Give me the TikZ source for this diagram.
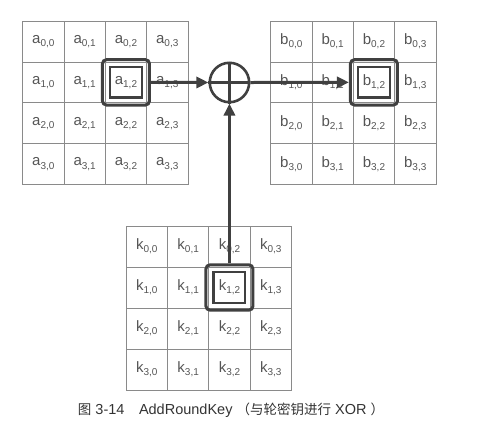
\documentclass[tikz,border=0pt]{standalone}
\usepackage{fontspec}
\setmainfont{Liberation Sans}
\newfontfamily\cjk{Noto Sans CJK SC}
\usetikzlibrary{arrows.meta}
\definecolor{gridc}{HTML}{8A8A8A}
\definecolor{txtc}{HTML}{555555}
\definecolor{darkc}{HTML}{404040}
\definecolor{capc}{HTML}{333333}
\newcommand{\cellab}[3]{#1{\fontsize{10}{10}\selectfont\raisebox{-3.3pt}{#2,#3}}}
\newcommand{\cj}[1]{{\cjk\fontsize{13.5}{13.5}\selectfont #1}}
\begin{document}
\begin{tikzpicture}[x=1pt,y=-1pt,
  cell/.style={draw=gridc,line width=0.7pt,minimum width=41.3pt,minimum height=40.9pt,inner sep=0pt,text=txtc,font=\fontsize{15}{15}\selectfont},
  outerbox/.style={draw=darkc,line width=3pt,rounded corners=4pt,minimum width=47pt,minimum height=45.3pt,inner sep=0pt},
  innerbox/.style={draw=darkc,line width=2.4pt,minimum width=31.6pt,minimum height=30.6pt,inner sep=0pt},
  xorc/.style={draw=darkc,line width=2.6pt,circle,minimum size=39.4pt,inner sep=0pt},
  flow/.style={draw=darkc,line width=3pt,-{Triangle[length=12pt,width=11pt]}}]
\useasboundingbox (0,0) rectangle (493,424);
\foreach \r in {0,...,3}{\foreach \c in {0,...,3}{
  \node[cell] (a-\r-\c) at ({22.7+(\c+0.5)*41.3},{21+(\r+0.5)*40.9}) {\cellab{a}{\r}{\c}};
  \node[cell] (b-\r-\c) at ({270.7+(\c+0.5)*41.3},{21+(\r+0.5)*40.9}) {\cellab{b}{\r}{\c}};
  \node[cell] (k-\r-\c) at ({126.2+(\c+0.5)*41.3},{226+(\r+0.5)*41}) {\cellab{k}{\r}{\c}};
}}
\node[outerbox] (oa) at (a-1-2.center) {};
\node[innerbox] (ia) at (a-1-2.center) {};
\node[outerbox] (ob) at (b-1-2.center) {};
\node[innerbox] (ib) at (b-1-2.center) {};
\node[outerbox] (ok) at (k-1-2.center) {};
\node[innerbox] (ik) at (k-1-2.center) {};
\node[xorc] (x) at (229.45,82.5) {};
\draw[darkc,line width=2.6pt] (x.north) -- (x.south) (x.west) -- (x.east);
\draw[flow] (oa.east) -- (x.west);
\draw[flow] (x.east) -- (ob.west);
\draw[flow] (ok.north) -- (x.south);
\node[text=capc,font=\fontsize{14.5}{14.5}\selectfont,inner sep=0pt] (cap) at (231,410) {\cj{图} 3-14\quad AddRoundKey \cj{（与轮密钥进行} XOR \cj{）}};
\end{tikzpicture}
\end{document}
